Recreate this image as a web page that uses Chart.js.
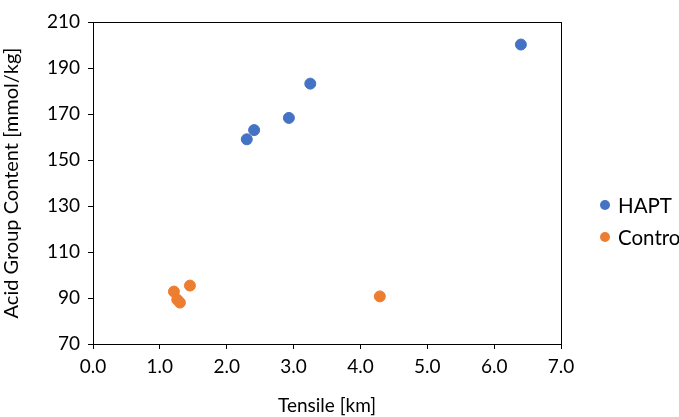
<!DOCTYPE html>
<html>
<head>
<meta charset="utf-8">
<script src="https://cdn.jsdelivr.net/npm/chart.js@4.4.1/dist/chart.umd.min.js"></script>
<style>
  html, body { margin: 0; padding: 0; background: #ffffff; overflow: hidden; }
  #wrap { width: 679px; height: 417px; position: relative; }
</style>
</head>
<body>
<div id="wrap"><canvas id="chart" width="679" height="417"></canvas></div>
<script>
// Series: tensile [km] vs acid group content [mmol/kg]
const seriesNames = ["HAPT", "Control"];
const seriesColors = ["#4472C4", "#ED7D31"];

const haptTensile = [6.40, 3.25, 2.93, 2.41, 2.30];
const haptAcid    = [200.2, 183.2, 168.3, 163.0, 159.0];

const controlTensile = [1.45, 1.21, 1.26, 1.30, 4.29];
const controlAcid    = [95.4, 92.8, 89.3, 88.0, 90.7];

const xTickValues = [0, 1, 2, 3, 4, 5, 6, 7];
const yTickValues = [70, 90, 110, 130, 150, 170, 190, 210];

const FONT = "Lato, 'Open Sans', sans-serif";

function toPoints(xs, ys) {
  return xs.map((x, i) => ({ x: x, y: ys[i] }));
}

// Frame around the plotting area
const framePlugin = {
  id: 'frame',
  afterDraw(chart) {
    const { ctx, chartArea: a } = chart;
    ctx.save();
    ctx.strokeStyle = '#000000';
    ctx.lineWidth = 1;
    ctx.strokeRect(Math.round(a.left) + 0.5, Math.round(a.top) + 0.5,
                   Math.round(a.right - a.left), Math.round(a.bottom - a.top));
    ctx.restore();
  }
};

// Legend at the right, outside the plotting area
const sideLegend = {
  id: 'sideLegend',
  afterDraw(chart) {
    const { ctx } = chart;
    ctx.save();
    ctx.font = "20.5px " + FONT;
    ctx.textBaseline = 'middle';
    ctx.textAlign = 'left';
    chart.data.datasets.forEach((ds, i) => {
      const cy = 205 + i * 32;
      ctx.fillStyle = ds.backgroundColor;
      ctx.beginPath();
      ctx.arc(605, cy, 5, 0, Math.PI * 2);
      ctx.fill();
      ctx.fillStyle = '#000000';
      ctx.fillText(ds.label, 618, cy + 1);
    });
    ctx.restore();
  }
};

const tickFont = { family: FONT, size: 19 };
const titleFont = { family: FONT, size: 20 };

new Chart(document.getElementById('chart'), {
  type: 'scatter',
  data: {
    datasets: [
      {
        label: seriesNames[0],
        data: toPoints(haptTensile, haptAcid),
        backgroundColor: seriesColors[0],
        borderColor: seriesColors[0],
        pointRadius: 5.5,
        borderWidth: 1
      },
      {
        label: seriesNames[1],
        data: toPoints(controlTensile, controlAcid),
        backgroundColor: seriesColors[1],
        borderColor: seriesColors[1],
        pointRadius: 5.5,
        borderWidth: 1
      }
    ]
  },
  options: {
    responsive: false,
    animation: false,
    layout: { padding: { left: 0, top: 22, right: 118, bottom: 0 } },
    plugins: {
      legend: { display: false },
      tooltip: { enabled: false }
    },
    scales: {
      x: {
        type: 'linear',
        min: 0,
        max: 7,
        afterBuildTicks(scale) { scale.ticks = xTickValues.map(v => ({ value: v })); },
        afterFit(scale) { scale.height = 73; },
        ticks: {
          color: '#000000',
          font: tickFont,
          padding: 6,
          callback: v => v.toFixed(1)
        },
        grid: {
          drawOnChartArea: false,
          drawTicks: true,
          tickLength: 5,
          color: '#000000'
        },
        border: { display: true, color: '#000000', width: 1 },
        title: {
          display: true,
          text: 'Tensile [km]',
          color: '#000000',
          font: tickFont,
          padding: { top: 4, bottom: 0 }
        }
      },
      y: {
        type: 'linear',
        min: 70,
        max: 210,
        afterBuildTicks(scale) { scale.ticks = yTickValues.map(v => ({ value: v })); },
        afterFit(scale) { scale.width = 93; },
        ticks: {
          color: '#000000',
          font: tickFont,
          padding: 8
        },
        grid: {
          drawOnChartArea: false,
          drawTicks: true,
          tickLength: 5,
          color: '#000000'
        },
        border: { display: true, color: '#000000', width: 1 },
        title: {
          display: true,
          text: 'Acid Group Content [mmol/kg]',
          color: '#000000',
          font: titleFont,
          padding: { top: 0, bottom: 4 }
        }
      }
    }
  },
  plugins: [framePlugin, sideLegend]
});
</script>
</body>
</html>
